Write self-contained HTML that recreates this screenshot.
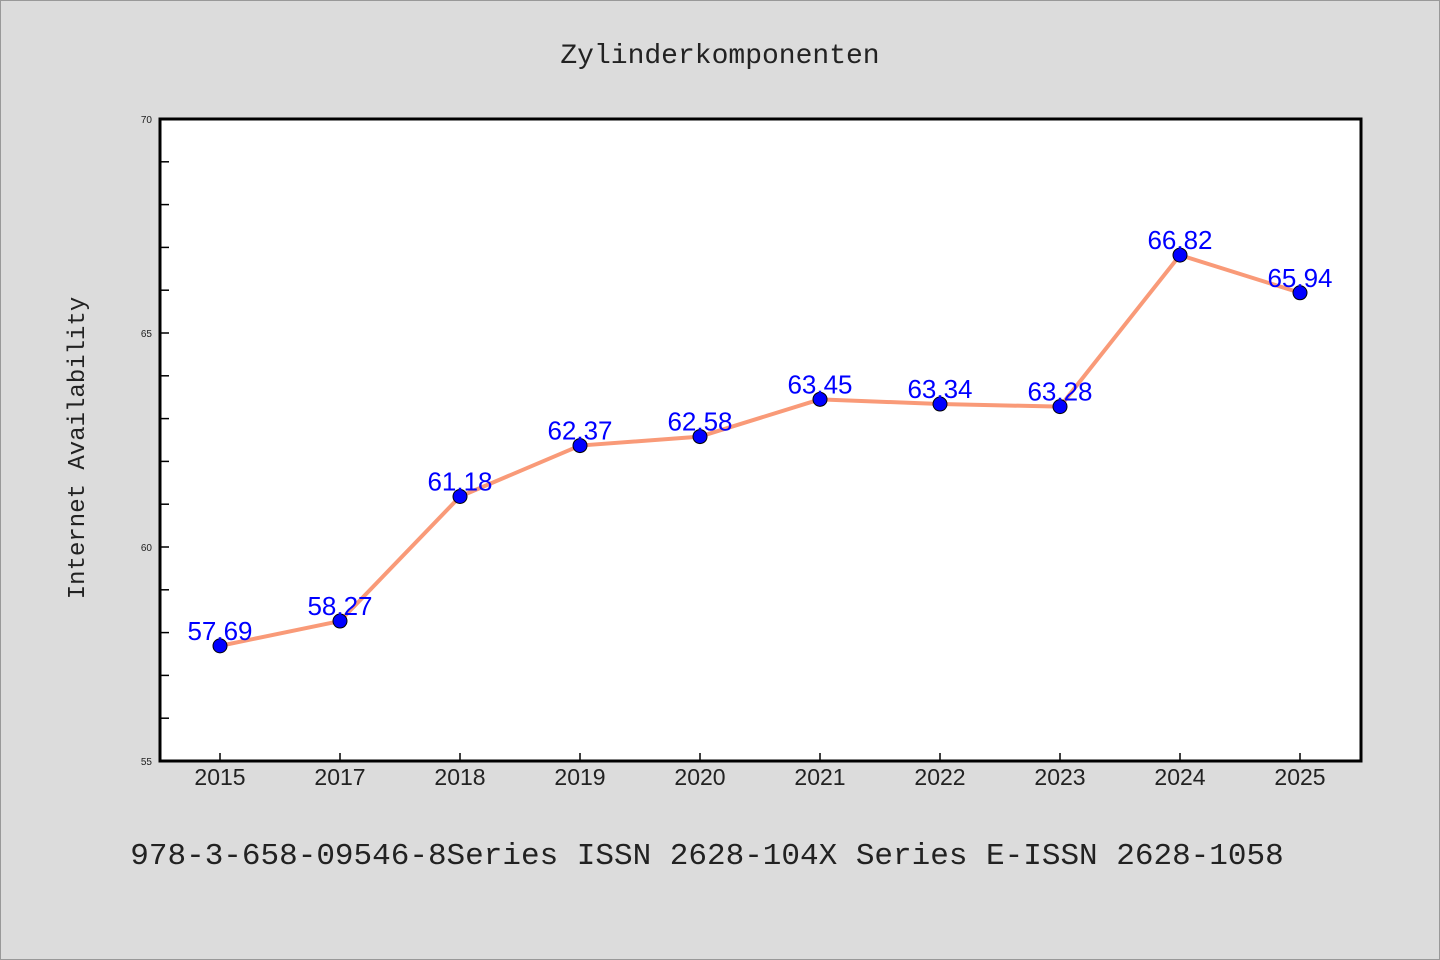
<!DOCTYPE html>
<html><head><meta charset="utf-8"><style>
body{margin:0;background:#dcdcdc;}
svg{display:block;}
</style></head><body>
<svg width="1440" height="960" xmlns="http://www.w3.org/2000/svg">
<rect x="0.5" y="0.5" width="1439" height="959" fill="#dcdcdc" stroke="#999"/>
<text x="720" y="63" text-anchor="middle" font-family="'WenQuanYi Zen Hei','Liberation Mono',monospace" font-size="28" fill="#222">Zylinderkomponenten</text>
<rect x="160" y="119" width="1201" height="642" fill="#fff"/>
<g id="ticks"></g>
<g id="series"></g>
<rect x="160" y="119" width="1201" height="642" fill="none" stroke="#000" stroke-width="3"/>
<text transform="translate(84,448) rotate(-90)" text-anchor="middle" font-family="'WenQuanYi Zen Hei','Liberation Mono',monospace" font-size="24" fill="#222">Internet Availability</text>
<text x="707" y="864" text-anchor="middle" font-family="'WenQuanYi Zen Hei','Liberation Mono',monospace" font-size="31" fill="#222">978-3-658-09546-8Series ISSN 2628-104X Series E-ISSN 2628-1058</text>
</svg>
<script>
const categories=["2015","2017","2018","2019","2020","2021","2022","2023","2024","2025"];
const values=[57.69,58.27,61.18,62.37,62.58,63.45,63.34,63.28,66.82,65.94];
const yTickLabels=[55,60,65,70];
const NS="http://www.w3.org/2000/svg";
const x0=160,x1=1361,yTop=119,yBot=761,yMin=55,yMax=70;
function xs(i){return 220+i*120;}
function ys(v){return yBot-(v-yMin)/(yMax-yMin)*(yBot-yTop);}
function mk(tag,attrs,parent){const e=document.createElementNS(NS,tag);for(const k in attrs)e.setAttribute(k,attrs[k]);parent.appendChild(e);return e;}
const tg=document.getElementById('ticks');
for(let v=yMin+1;v<yMax;v++){
 const t=mk('line',{x1:x0,x2:x0+9,y1:ys(v),y2:ys(v),stroke:'#000','stroke-width':1.5},tg);
 
 
}
yTickLabels.forEach(v=>{
 const t=mk('text',{x:152,y:ys(v)+4,'text-anchor':'end','font-family':'Liberation Sans, sans-serif','font-size':10,fill:'#222'},tg);
 t.textContent=v;
 
 
});
categories.forEach((c,i)=>{
 const l=mk('line',{x1:xs(i),x2:xs(i),y1:yBot,y2:yBot-8,stroke:'#000','stroke-width':1.5},tg);
 
 
 const t=mk('text',{x:xs(i),y:785,'text-anchor':'middle','font-family':'Liberation Sans, sans-serif','font-size':23,fill:'#222'},tg);
 t.textContent=c;
 
 
});
const sg=document.getElementById('series');
const line=mk('polyline',{points:values.map((v,i)=>xs(i)+','+ys(v)).join(' '),fill:'none',stroke:'#f99a78','stroke-width':4,'stroke-linejoin':'round'},sg);


values.forEach((v,i)=>{
 const c=mk('circle',{cx:xs(i),cy:ys(v),r:7,fill:'#0000ff',stroke:'#000','stroke-width':1},sg);
 
 
 const t=mk('text',{x:xs(i),y:ys(v)-6,'text-anchor':'middle','font-family':'Liberation Sans, sans-serif','font-size':26,fill:'#0000ff'},sg);
 t.textContent=v.toFixed(2);
 
 
});
</script>
</body></html>
